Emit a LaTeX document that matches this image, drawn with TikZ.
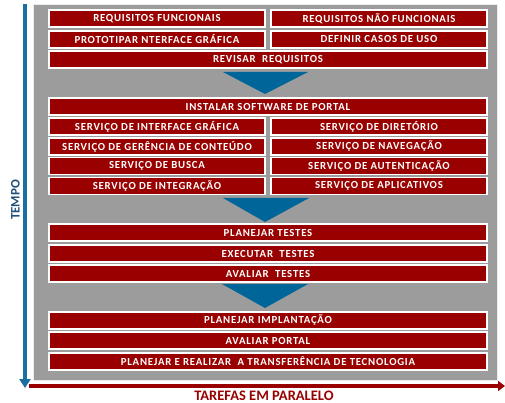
\documentclass[tikz,border=0pt]{standalone}
\usepackage{fontspec}
\setmainfont{Carlito}
\newfontfamily\boxfont[LetterSpace=7]{Carlito}
\usetikzlibrary{arrows.meta}
\definecolor{boxred}{HTML}{990000}
\definecolor{axisblue}{HTML}{1B6FA3}
\definecolor{triblue}{HTML}{006699}
\definecolor{tempoblue}{HTML}{1F4E79}
\definecolor{panelgray}{HTML}{9C9C9C}
\tikzset{
  task/.style={draw=white, line width=1.3pt, fill=boxred, text=white,
    font=\boxfont\bfseries\fontsize{10.8}{11}\selectfont, inner sep=0pt,
    minimum height=17pt, anchor=center},
  halfbox/.style={task, minimum width=216pt},
  fullbox/.style={task, minimum width=438pt},
  flowtri/.style={fill=triblue, draw=none},
}
\begin{document}
\begin{tikzpicture}[x=1pt,y=-1pt]
\useasboundingbox (0,0) rectangle (505,403);
% panel
\fill[panelgray] (33,4) rectangle (498,381);
\draw[white!85!gray, line width=0.8pt] (33.4,4.4) rectangle (497.6,380.6);
% section 1
\node[halfbox] (rf)  at (157,18.5) {REQUISITOS FUNCIONAIS};
\node[halfbox] (rnf) at (379,18.5) {REQUISITOS NÃO FUNCIONAIS};
\node[halfbox] (pig) at (157,39.5) {PROTOTIPAR NTERFACE GRÁFICA};
\node[halfbox] (dcu) at (379,39.5) {DEFINIR CASOS DE USO};
\node[fullbox] (rr)  at (268,59.5) {REVISAR\ \ REQUISITOS};
\fill[flowtri] (223,72) -- (308,72) -- (265,94) -- cycle;
% section 2
\node[fullbox] (isp) at (268,106.5) {INSTALAR SOFTWARE DE PORTAL};
\node[halfbox] (sig) at (157,126.5) {SERVIÇO DE INTERFACE GRÁFICA};
\node[halfbox] (sdi) at (379,126.5) {SERVIÇO DE DIRETÓRIO};
\node[halfbox] (sgc) at (157,146.5) {SERVIÇO DE GERÊNCIA DE CONTEÚDO};
\node[halfbox] (sna) at (379,146.5) {SERVIÇO DE NAVEGAÇÃO};
\node[halfbox] (sbu) at (157,166.2) {SERVIÇO DE BUSCA};
\node[halfbox] (sau) at (379,166.2) {SERVIÇO DE AUTENTICAÇÃO};
\node[halfbox] (sin) at (157,186) {SERVIÇO DE INTEGRAÇÃO};
\node[halfbox] (sap) at (379,186) {SERVIÇO DE APLICATIVOS};
\fill[flowtri] (223,198) -- (309,198) -- (265,222) -- cycle;
% section 3
\node[fullbox] (pt) at (268,232.5) {PLANEJAR TESTES};
\node[fullbox] (et) at (268,253.5) {EXECUTAR\ \ TESTES};
\node[fullbox] (at) at (268,273.5) {AVALIAR\ \ TESTES};
\fill[flowtri] (222,284) -- (308,284) -- (265,308) -- cycle;
% section 4
\node[fullbox] (pi) at (268,320.5) {PLANEJAR IMPLANTAÇÃO};
\node[fullbox] (ap) at (268,340.5) {AVALIAR PORTAL};
\node[fullbox] (tt) at (268,361.5) {PLANEJAR E REALIZAR\ \ A TRANSFERÊNCIA DE TECNOLOGIA};
% axes
\coordinate (vtop) at (25,4);
\coordinate (vbot) at (25,388);
\coordinate (hleft) at (29,386);
\coordinate (hright) at (505,386);
\draw[axisblue, line width=4.5pt, -{Triangle[width=11pt,length=9pt]}] (vtop) -- (vbot);
\draw[boxred, line width=4pt, -{Triangle[width=10pt,length=7pt]}] (hleft) -- (hright);
\node[text=boxred, font=\bfseries\fontsize{14.5}{14.5}\selectfont, inner sep=0pt] (tep) at (264,395.5) {TAREFAS EM PARALELO};
\node[text=tempoblue, font=\bfseries\fontsize{13}{13}\selectfont, inner sep=0pt, rotate=90] (tempo) at (15.5,200) {TEMPO};
\end{tikzpicture}
\end{document}
